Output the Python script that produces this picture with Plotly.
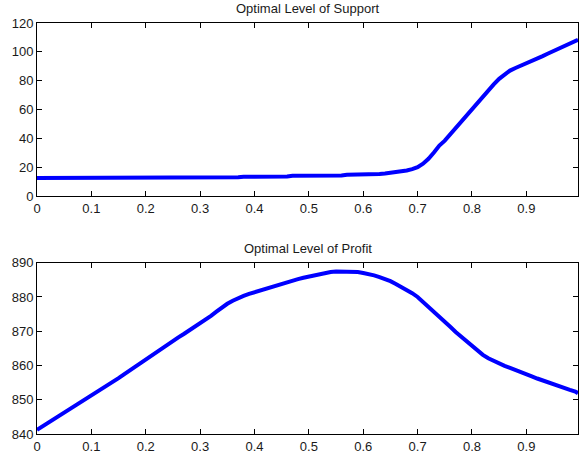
import plotly.graph_objects as go

# shared x positions
x_vals = [round(i * 0.01, 2) for i in range(100)] + [0.995]

support = (
    [12.5] * 37 +                                   # 0.00 - 0.36
    [13.0] + [13.3] * 8 + [13.6] +                  # 0.37 - 0.46
    [14.0] * 9 + [14.3] +                           # 0.47 - 0.56
    [14.8] * 5 +                                    # 0.57 - 0.61
    [15.0, 15.3, 15.6, 16.0, 16.5, 17.0, 17.7, 18.6, 20.0,   # 0.62 - 0.70
     22.4, 25.8, 30.2, 35.0, 38.4, 42.8, 47.2, 51.8, 56.2, 60.5,  # 0.71 - 0.80
     64.8, 68.8, 73.0, 77.4, 81.3, 84.5, 87.0, 88.8, 90.3, 91.8,  # 0.81 - 0.90
     93.4, 95.2, 97.0, 98.8, 100.5, 102.4, 104.1, 105.8, 107.6,   # 0.91 - 0.99
     108.4]                                         # 0.995
)

profit = [
    841.2, 842.2, 843.2, 844.2, 845.2, 846.1, 847.0, 848.0, 849.0, 850.0,
    851.0, 852.1, 853.2, 854.2, 855.3, 856.3, 857.4, 858.5, 859.6, 860.8,
    861.9, 863.0, 864.0, 865.0, 866.1, 867.1, 868.2, 869.2, 870.2, 871.3,
    872.3, 873.4, 874.5, 875.7, 876.9, 878.0, 878.9, 879.7, 880.3, 880.9,
    881.4, 881.9, 882.4, 882.9, 883.3, 883.8, 884.3, 884.8, 885.2, 885.6,
    886.0, 886.3, 886.7, 887.0, 887.3, 887.4, 887.4, 887.4, 887.4, 887.3,
    887.0, 886.7, 886.3, 885.8, 885.3, 884.6, 883.8, 883.0, 882.1, 881.1,
    880.0, 878.6, 877.2, 875.8, 874.4, 872.9, 871.3, 869.8, 868.4, 867.0,
    865.6, 864.3, 863.1, 862.1, 861.3, 860.6, 859.9, 859.3, 858.6, 858.0,
    857.4, 856.8, 856.2, 855.6, 855.0, 854.4, 853.8, 853.3, 852.9, 852.4,
    851.9,
]

x_ticks = [0, 0.1, 0.2, 0.3, 0.4, 0.5, 0.6, 0.7, 0.8, 0.9]
x_tick_labels = ["0", "0.1", "0.2", "0.3", "0.4", "0.5", "0.6", "0.7", "0.8", "0.9"]
support_ticks = [0, 20, 40, 60, 80, 100, 120]
profit_ticks = [840, 850, 860, 870, 880, 890]

titles = ["Optimal Level of Support", "Optimal Level of Profit"]

W, H = 579, 456
FONT = "Liberation Sans, Arial, Helvetica, sans-serif"

fig = go.Figure()
fig.add_trace(go.Scatter(x=x_vals, y=support, mode="lines",
                         line=dict(color="#0000ff", width=4), xaxis="x", yaxis="y",
                         showlegend=False))
fig.add_trace(go.Scatter(x=x_vals, y=profit, mode="lines",
                         line=dict(color="#0000ff", width=4), xaxis="x2", yaxis="y2",
                         showlegend=False))

def px_dom(top, bottom):
    return [1 - bottom / H, 1 - top / H]

axis_common = dict(showline=True, linecolor="black", linewidth=1, mirror="ticks",
                   ticks="inside", ticklen=5, tickcolor="black", showgrid=False,
                   zeroline=False, automargin=False,
                   tickfont=dict(family=FONT, size=13, color="#1a1a1a"))

fig.update_layout(
    width=W, height=H,
    margin=dict(l=37, r=1, t=0, b=0, autoexpand=False),
    paper_bgcolor="white", plot_bgcolor="white",
    xaxis=dict(domain=[0, 1], range=[0, 0.995], tickvals=x_ticks, ticktext=x_tick_labels,
               anchor="y", **axis_common),
    yaxis=dict(domain=px_dom(23, 196), range=[0, 120], tickvals=support_ticks,
               anchor="x", **axis_common),
    xaxis2=dict(domain=[0, 1], range=[0, 0.995], tickvals=x_ticks, ticktext=x_tick_labels,
                anchor="y2", **axis_common),
    yaxis2=dict(domain=px_dom(262.7, 434), range=[840, 890], tickvals=profit_ticks,
                anchor="x2", **axis_common),
)

for t, yc in zip(titles, [8.7, 248]):
    fig.add_annotation(text=t, xref="paper", yref="paper", x=0.5, y=1 - yc / H,
                       xanchor="center", yanchor="middle", showarrow=False,
                       font=dict(family=FONT, size=13, color="#1a1a1a"))

fig.write_html("out.html", config={"displayModeBar": False},
               post_script="document.body.style.margin='0';document.body.style.padding='0';"
                           "document.body.style.overflow='hidden';")
